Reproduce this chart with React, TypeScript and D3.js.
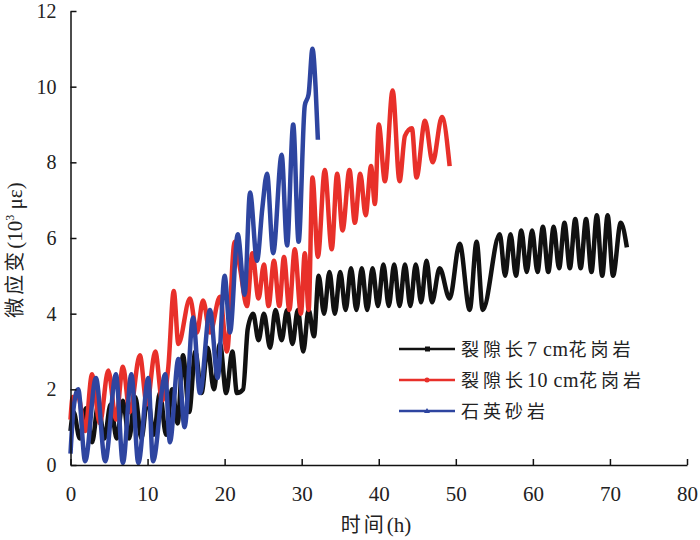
import { axisBottom, axisLeft, curveMonotoneX, line, scaleLinear, select } from 'd3';
import { useEffect, useRef } from 'react';

// 裂隙长7 cm花岗岩
const blackX = [0, 0.4, 1.2, 2.0, 2.8, 3.6, 4.4, 5.2, 6.0, 6.8, 7.6, 8.4, 9.2, 10.0, 10.8, 11.6, 12.4, 13.2, 13.9, 14.6, 15.4, 16.2, 17.0, 17.8, 18.6, 19.4, 20.2, 21.0, 21.6, 22.4, 23.0, 23.7, 24.4, 25.1, 25.9, 26.6, 27.4, 28.1, 28.8, 29.5, 30.2, 30.9, 31.6, 32.2, 32.9, 33.6, 34.3, 35.0, 35.7, 36.4, 37.1, 37.8, 38.5, 39.2, 39.9, 40.6, 41.3, 42.0, 42.7, 43.4, 44.1, 44.8, 45.5, 46.2, 46.9, 47.9, 49.2, 50.5, 51.8, 52.7, 53.5, 55.7, 56.4, 57.1, 57.8, 58.5, 59.2, 59.9, 60.6, 61.3, 62.0, 62.7, 63.4, 64.1, 64.8, 65.5, 66.2, 66.9, 67.6, 68.3, 69.0, 69.7, 70.4, 71.4, 72.2];
const blackY = [0.9, 1.4, 0.7, 1.5, 0.6, 1.6, 0.7, 1.6, 0.7, 1.7, 0.7, 1.8, 0.7, 1.8, 0.8, 1.9, 0.8, 2.0, 1.1, 2.9, 1.4, 3.0, 1.9, 3.1, 2.0, 3.2, 1.9, 3.0, 1.9, 2.0, 3.6, 4.0, 3.3, 4.0, 3.1, 4.1, 3.3, 4.1, 3.2, 4.1, 3.0, 4.1, 3.4, 5.0, 4.0, 5.1, 4.0, 5.1, 4.1, 5.2, 4.1, 5.2, 4.1, 5.2, 4.2, 5.3, 4.2, 5.3, 4.2, 5.3, 4.2, 5.3, 4.3, 5.4, 4.3, 5.2, 4.4, 5.85, 4.1, 5.9, 4.1, 6.1, 5.0, 6.1, 5.0, 6.2, 5.1, 6.2, 5.1, 6.3, 5.1, 6.3, 5.2, 6.4, 5.2, 6.5, 5.2, 6.5, 5.1, 6.6, 5.0, 6.6, 5.0, 6.4, 5.75];

// 裂隙长10 cm花岗岩
const redX = [0, 0.3, 1.0, 1.9, 2.8, 3.8, 4.9, 5.9, 6.8, 7.7, 9.0, 9.9, 11.0, 11.9, 12.7, 13.4, 14.0, 15.5, 16.4, 17.2, 18.1, 19.4, 20.3, 21.3, 22.0, 22.9, 23.6, 24.4, 25.1, 25.7, 26.4, 27.1, 27.7, 28.4, 29.1, 29.9, 30.4, 30.9, 31.4, 32.1, 33.0, 33.9, 34.6, 35.3, 36.2, 36.9, 37.6, 38.3, 39.0, 39.5, 40.0, 40.8, 41.8, 42.7, 43.4, 44.3, 44.9, 46.0, 47.0, 48.2, 49.2];
const redY = [1.2, 1.8, 1.8, 0.9, 2.4, 1.1, 2.5, 1.2, 2.6, 1.4, 2.9, 1.6, 3.0, 1.7, 2.6, 4.6, 3.2, 4.4, 3.5, 4.35, 3.5, 4.45, 3.0, 5.9, 5.2, 4.2, 5.6, 4.4, 5.3, 4.2, 5.4, 4.2, 5.5, 4.1, 5.7, 4.0, 5.6, 4.1, 7.6, 5.5, 7.8, 5.7, 7.7, 6.2, 7.8, 6.4, 7.7, 6.6, 7.9, 6.9, 9.0, 7.5, 9.9, 7.5, 8.7, 8.9, 7.6, 9.1, 8.0, 9.2, 7.9];

// 石英砂岩
const blueX = [0, 0.4, 1.0, 1.9, 3.3, 4.5, 5.9, 6.8, 7.9, 8.8, 10.1, 10.7, 12.3, 12.9, 14.0, 14.8, 15.9, 16.8, 18.1, 19.1, 20.0, 20.7, 21.7, 22.6, 23.3, 24.2, 24.9, 25.5, 26.3, 27.4, 28.1, 28.9, 29.6, 30.4, 30.9, 31.4, 31.8, 32.1];
const blueY = [0.3, 1.5, 2.0, 0.1, 2.3, 0.1, 2.4, 0.05, 2.4, 0.05, 2.3, 0.1, 2.4, 0.6, 2.8, 1.0, 3.9, 1.9, 4.1, 2.3, 5.0, 3.5, 6.1, 4.5, 7.2, 5.4, 6.8, 7.7, 5.6, 8.2, 5.8, 9.0, 5.9, 9.5, 9.8, 11.0, 10.0, 8.6];

const xTicks = [0, 10, 20, 30, 40, 50, 60, 70, 80];
const yTicks = [0, 2, 4, 6, 8, 10, 12];

const seriesNames = ['裂隙长7 cm花岗岩', '裂隙长10 cm花岗岩', '石英砂岩'];
const seriesColors = ['#111111', '#e8302a', '#2e45a0'];

const zip = (xs: number[], ys: number[]) => xs.map((x, i) => [x, ys[i]] as [number, number]);

// split a label into CJK / latin runs so only the CJK part gets extra spacing
const runs = (s: string) => s.match(/[\u4e00-\u9fff]+|[^\u4e00-\u9fff]+/g) ?? [];
const isCjk = (s: string) => /[\u4e00-\u9fff]/.test(s);

export default function App() {
  const width = 700;
  const height = 540;
  const margin = { top: 11, bottom: 75, left: 70.5, right: 13 };
  const gx = useRef<SVGGElement>(null);
  const gy = useRef<SVGGElement>(null);

  const xScale = scaleLinear()
    .domain([0, 80])
    .range([margin.left, width - margin.right]);
  const yScale = scaleLinear()
    .domain([0, 12])
    .range([height - margin.bottom, margin.top]);

  const lineGenerator = line<[number, number]>()
    .x((d) => xScale(d[0]))
    .y((d) => yScale(d[1]))
    .curve(curveMonotoneX);

  const series = [zip(blackX, blackY), zip(redX, redY), zip(blueX, blueY)];

  useEffect(() => {
    const g = select(gx.current!);
    g.call(axisBottom(xScale).tickValues(xTicks).tickSizeInner(-6).tickSizeOuter(0).tickPadding(21));
    g.selectAll('path,line').attr('stroke', '#111').attr('stroke-width', 1.5);
    g.selectAll('text')
      .attr('font-family', "'Liberation Serif', serif")
      .attr('font-size', 21)
      .attr('fill', '#222');
  }, []);

  useEffect(() => {
    const g = select(gy.current!);
    g.call(axisLeft(yScale).tickValues(yTicks).tickSizeInner(-6).tickSizeOuter(0).tickPadding(14));
    g.selectAll('path,line').attr('stroke', '#111').attr('stroke-width', 1.5);
    g.selectAll('text')
      .attr('font-family', "'Liberation Serif', serif")
      .attr('font-size', 20)
      .attr('fill', '#222');
  }, []);

  const cjk = "'Liberation Serif', 'Noto Sans CJK SC', serif";

  return (
    <svg
      width={width}
      height={height}
      style={{ position: 'absolute', left: 0, top: 0, background: '#fff' }}>
      <g>
        {series.map((s, i) => (
          <path
            key={i}
            d={lineGenerator(s) ?? ''}
            fill='none'
            stroke={seriesColors[i]}
            strokeWidth={4.5}
            strokeLinejoin='round'
          />
        ))}
      </g>
      <g ref={gx} transform={`translate(0, ${height - margin.bottom})`}></g>
      <g ref={gy} transform={`translate(${margin.left}, 0)`}></g>

      <text x={376} y={532} textAnchor='middle' fontFamily={cjk} fontSize={20} fill='#222'>
        <tspan letterSpacing={3}>时间</tspan>
        <tspan fontSize={21}>(h)</tspan>
      </text>
      <text
        transform='translate(22, 250) rotate(-90)'
        textAnchor='middle'
        fontFamily={cjk}
        fontSize={20}
        fill='#222'>
        <tspan letterSpacing={3}>微应变</tspan>
        <tspan fontSize={21}>(10</tspan>
        <tspan fontSize={12} dy={-8}>3</tspan>
        <tspan fontSize={21} dy={8}> με)</tspan>
      </text>

      <g>
        {seriesNames.map((name, i) => {
          const y = 349 + i * 31;
          return (
            <g key={name}>
              <line x1={399} x2={455} y1={y} y2={y} stroke={seriesColors[i]} strokeWidth={2.5} />
              {i === 0 && <rect x={425} y={y - 2.5} width={5} height={5} fill={seriesColors[i]} />}
              {i === 1 && <circle cx={427} cy={y} r={2.5} fill={seriesColors[i]} />}
              {i === 2 && (
                <path d={`M427,${y - 3}L430,${y + 2}L424,${y + 2}Z`} fill={seriesColors[i]} />
              )}
              <text x={461} y={y + 7} fontFamily={cjk} fontSize={18} fill='#222'>
                {runs(name).map((r, j) =>
                  isCjk(r) ? (
                    <tspan key={j} letterSpacing={4}>
                      {r}
                    </tspan>
                  ) : (
                    <tspan key={j} fontSize={20} letterSpacing={0.5}>
                      {r}
                    </tspan>
                  ),
                )}
              </text>
            </g>
          );
        })}
      </g>
    </svg>
  );
}
